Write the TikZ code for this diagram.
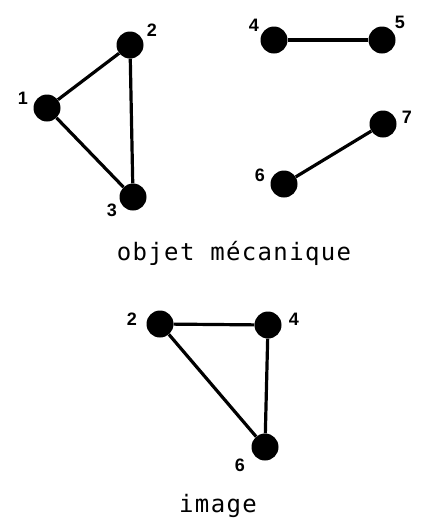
\documentclass[tikz,border=0pt]{standalone}
\usepackage{fontspec}
\newfontfamily\labfont{Liberation Sans}
\newfontfamily\capfont[LetterSpace=5.6]{DejaVu Sans Mono}
\begin{document}
\begin{tikzpicture}[x=1pt,y=-1pt,
  dot/.style={circle,fill=black,minimum size=27pt,inner sep=0pt},
  edge/.style={line width=3.2pt},
  lab/.style={font=\labfont\bfseries\fontsize{18}{18}\selectfont,inner sep=0pt},
  captext/.style={font=\capfont\fontsize{24}{24}\selectfont,anchor=base,inner sep=0pt}]
\useasboundingbox (0,0) rectangle (425,520);
% top graph
\node[dot] (a1) at (47,108) {};
\node[dot] (a2) at (130,45) {};
\node[dot] (a3) at (133,197) {};
\node[dot] (a4) at (274,40) {};
\node[dot] (a5) at (382,40) {};
\node[dot] (a6) at (284,184) {};
\node[dot] (a7) at (383,124) {};
\draw[edge] (a1) -- (a2);
\draw[edge] (a1) -- (a3);
\draw[edge] (a2) -- (a3);
\draw[edge] (a4) -- (a5);
\draw[edge] (a6) -- (a7);
\node[lab] (l1) at (23,98) {1};
\node[lab] (l2) at (152,30) {2};
\node[lab] (l3) at (112,210) {3};
\node[lab] (l4) at (254,25) {4};
\node[lab] (l5) at (400,22) {5};
\node[lab] (l6) at (260,175) {6};
\node[lab] (l7) at (407,117) {7};
\node[captext] (t1) at (234,260) {objet mécanique};
% image graph
\node[dot] (b2) at (160,324) {};
\node[dot] (b4) at (268,325) {};
\node[dot] (b6) at (265,447) {};
\draw[edge] (b2) -- (b4);
\draw[edge] (b2) -- (b6);
\draw[edge] (b4) -- (b6);
\node[lab] (m2) at (132,319) {2};
\node[lab] (m4) at (294,319) {4};
\node[lab] (m6) at (240,465) {6};
\node[captext] (t2) at (218,512) {image};
\end{tikzpicture}
\end{document}
